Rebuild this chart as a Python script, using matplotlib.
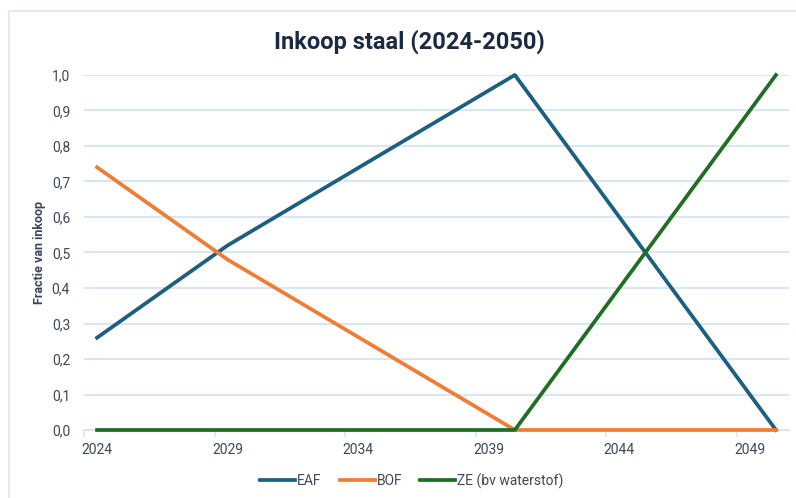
import matplotlib.pyplot as plt
from matplotlib.patches import Rectangle
from matplotlib.ticker import FuncFormatter, FixedLocator

# key points of each series (years, fraction)
eaf_years = [2024, 2029, 2040, 2050]
eaf_vals = [0.26, 0.52, 1.0, 0.0]
bof_years = [2024, 2029, 2040, 2050]
bof_vals = [0.74, 0.48, 0.0, 0.0]
ze_years = [2024, 2040, 2050]
ze_vals = [0.0, 0.0, 1.0]

xtick_labels = [2024, 2029, 2034, 2039, 2044, 2049]

grid_col = '#d6e4f4'
text_col = '#3d4757'
plt.rcParams['font.family'] = ['Roboto', 'DejaVu Sans']

fig = plt.figure(figsize=(7.96, 4.98), dpi=100)
ax = fig.add_axes([84 / 796, 68 / 498, 705 / 796, 355 / 498])

# chart border
fig.patches.append(Rectangle((9 / 796, -0.1), 1.2, (498 - 11) / 498 + 0.1,
                             transform=fig.transFigure, fill=False,
                             edgecolor='#dae6f3', lw=1.2))

lw = 2.7
ax.plot(eaf_years, eaf_vals, color='#1c5f80', lw=lw, label='EAF', zorder=3, clip_on=False)
ax.plot(bof_years, bof_vals, color='#ee7d35', lw=lw, label='BOF', zorder=3, clip_on=False)
ax.plot(ze_years, ze_vals, color='#1e6f24', lw=lw, label='ZE (bv waterstof)', zorder=4,
        clip_on=False)

ax.set_xlim(2023.5, 2050.5)
ax.set_ylim(0, 1.0)

ax.set_yticks([i / 10 for i in range(11)])
ax.yaxis.set_major_formatter(FuncFormatter(lambda v, p: f'{v:.1f}'.replace('.', ',')))
ax.grid(axis='y', color=grid_col, lw=1.3)
ax.set_axisbelow(True)

ax.set_xticks(xtick_labels)
ax.set_xticklabels([str(y) for y in xtick_labels])
ax.xaxis.set_minor_locator(FixedLocator([2023.5] + [y - 0.5 for y in xtick_labels[1:]]))
ax.tick_params(axis='x', which='major', length=0, pad=9, labelsize=10, labelcolor=text_col)
ax.tick_params(axis='x', which='minor', length=5, color=grid_col, width=1.2)
ax.tick_params(axis='y', length=0, pad=10, labelsize=10, labelcolor=text_col)

for s in ['top', 'right', 'left']:
    ax.spines[s].set_visible(False)
ax.spines['bottom'].set_color(grid_col)
ax.spines['bottom'].set_linewidth(1.3)

ax.set_ylabel('Fractie van inkoop', fontsize=9, fontweight='bold', color=text_col, labelpad=4)

fig.text(409 / 796, 1 - 42 / 498, 'Inkoop staal (2024-2050)', ha='center', va='center',
         fontsize=17, fontweight='bold', color='#1b2a40')

leg = fig.legend(loc='center', bbox_to_anchor=(412 / 796, 1 - 481 / 498), ncol=3,
                 frameon=False, handlelength=2.5, handletextpad=0.15, columnspacing=1.3,
                 prop={'size': 10})
for t in leg.get_texts():
    t.set_color(text_col)

fig.savefig('out.png', dpi=100)
